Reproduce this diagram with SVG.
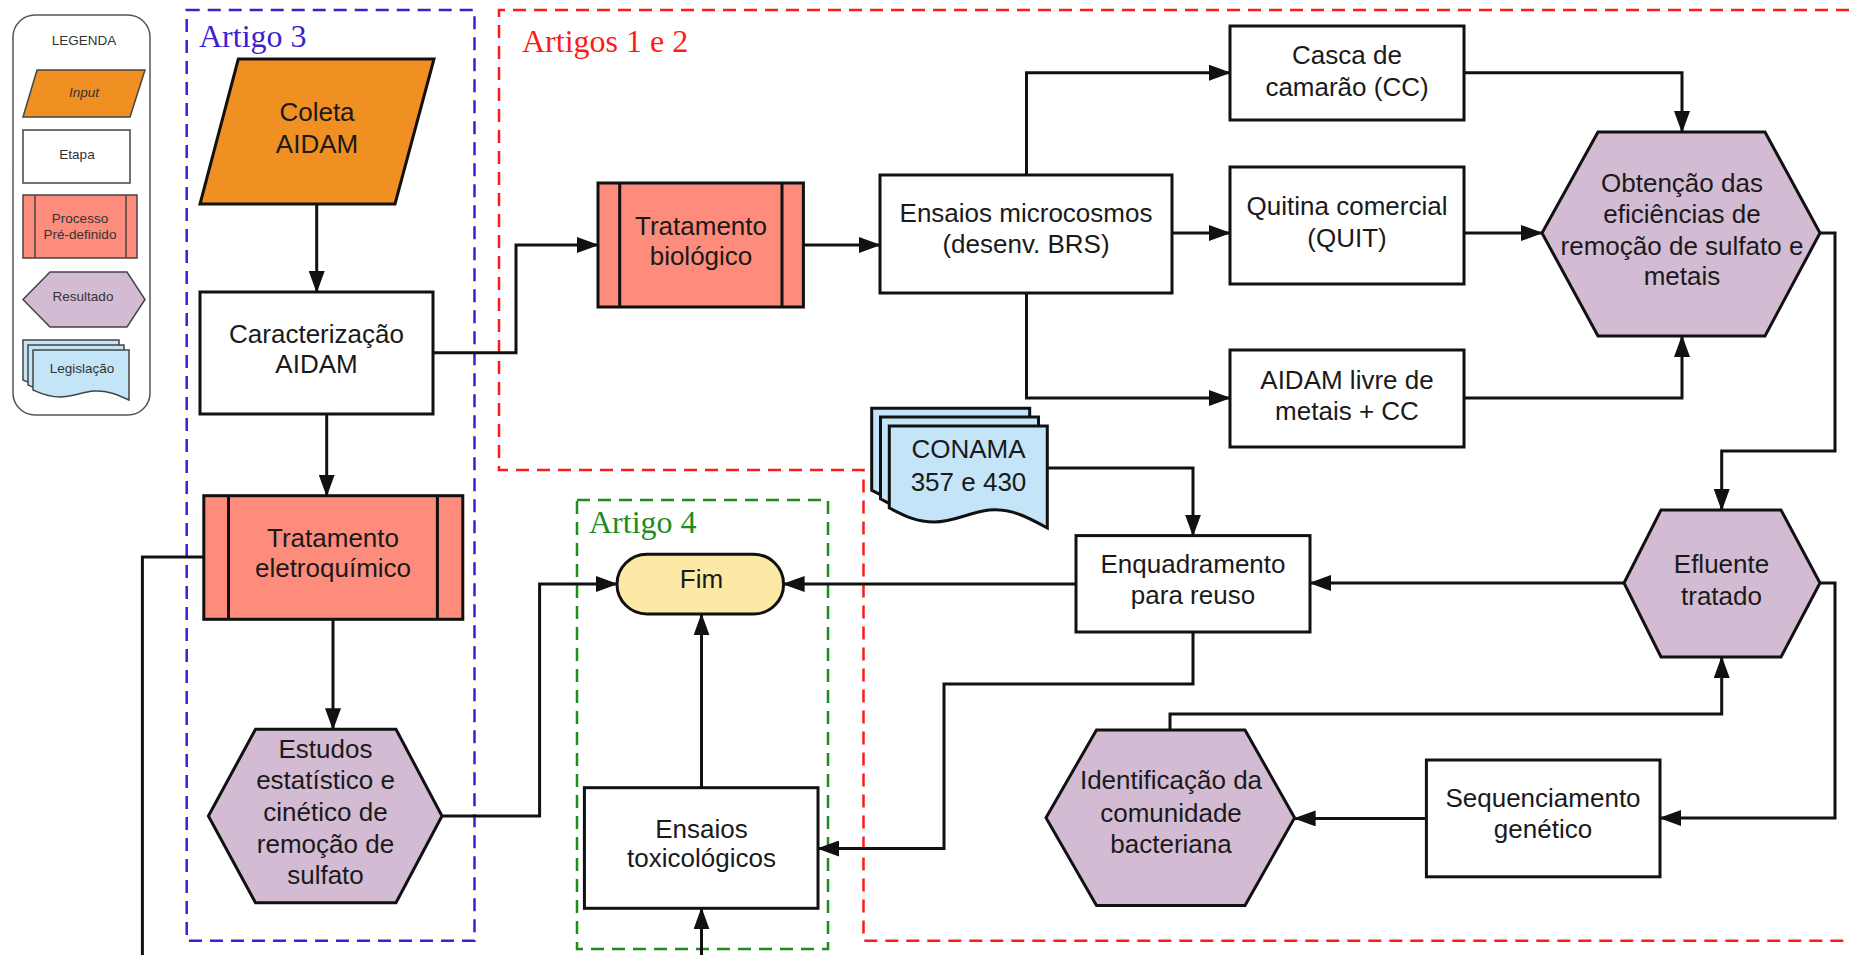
<svg xmlns="http://www.w3.org/2000/svg" xmlns:xlink="http://www.w3.org/1999/xlink" width="1849" height="955" viewBox="0 0 1849 955">
<style>
  .t { font-family: "Liberation Sans", Arial, sans-serif; font-size: 26px; fill: #1a1a1a; text-anchor: middle; }
  .lt { font-family: "Liberation Sans", Arial, sans-serif; font-size: 13.5px; fill: #333; text-anchor: middle; }
  .art { font-family: "Liberation Serif", "Times New Roman", serif; font-size: 32px; }
  .box { fill: #fff; stroke: #111; stroke-width: 3; }
  .inp { fill: #f08f22; stroke: #111; stroke-width: 3; }
  .proc { fill: #fd8c7c; stroke: #111; stroke-width: 3; }
  .res { fill: #d3bbd3; stroke: #111; stroke-width: 3; }
  .doc { fill: #c4e4f7; stroke: #111; stroke-width: 3; }
  .term { fill: #fde9a6; stroke: #111; stroke-width: 3; }
  .lbox { fill: #fff; stroke: #444; stroke-width: 1.5; }
  .linp { fill: #f08f22; stroke: #444; stroke-width: 1.5; }
  .lproc { fill: #fd8c7c; stroke: #444; stroke-width: 1.5; }
  .lres { fill: #d3bbd3; stroke: #444; stroke-width: 1.5; }
  .ldoc { fill: #c4e4f7; stroke: #444; stroke-width: 1.5; }
  .conn path { fill: none; stroke: #111; stroke-width: 3; }
  .arr { marker-end: url(#ah); }
  .dash { fill: none; stroke-width: 2.5; stroke-dasharray: 13 8; }
</style>
<defs>
  <marker id="ah" markerUnits="userSpaceOnUse" markerWidth="22" markerHeight="16" refX="21" refY="8" orient="auto">
    <path d="M0,0 L22,8 L0,16 Z" fill="#111"/>
  </marker>
  <path id="doc" d="M0,0 H158 V102 C140,92 122,82 100,84 C80,86 65,96 45,96 C25,96 12,88 0,82 Z"/>
  <path id="ldoc" d="M0,0 H96 V50 C85,45 74,40 61,41 C49,42 39,47 27,47 C15,47 7,43 0,40 Z"/>
</defs>
<rect width="1849" height="955" fill="#fff"/>

<g id="legend">
  <rect x="13" y="15" width="137" height="400" rx="22" fill="#fff" stroke="#555" stroke-width="1.5"/>
  <text class="lt" x="84" y="45">LEGENDA</text>
  <polygon class="linp" points="37,70 145,70 130,117 23,117"/>
  <text class="lt" x="84" y="97" font-style="italic">Input</text>
  <rect class="lbox" x="23" y="130" width="107" height="53"/>
  <text class="lt" x="77" y="159">Etapa</text>
  <rect class="lproc" x="23" y="195" width="114" height="63"/>
  <line x1="35" y1="195" x2="35" y2="258" stroke="#444" stroke-width="1.5"/>
  <line x1="126" y1="195" x2="126" y2="258" stroke="#444" stroke-width="1.5"/>
  <text class="lt" x="80" y="223">Processo</text>
  <text class="lt" x="80" y="239">Pré-definido</text>
  <polygon class="lres" points="50,272 127,272 145,299.5 127,327 50,327 23,299.5"/>
  <text class="lt" x="83" y="301">Resultado</text>
  <use xlink:href="#ldoc" class="ldoc" x="23" y="340"/>
  <use xlink:href="#ldoc" class="ldoc" x="28" y="345"/>
  <use xlink:href="#ldoc" class="ldoc" x="33" y="350"/>
  <text class="lt" x="82" y="373">Legislação</text>
</g>

<g id="containers">
  <g id="artigo3">
    <rect class="dash" x="186.7" y="10" width="287.8" height="930.7" stroke="#3b1fd1"/>
    <text class="art" x="199" y="47" fill="#3b1fd1">Artigo 3</text>
  </g>
  <g id="artigos12">
    <path class="dash" d="M1870,10 H499 V470 H863.5 V940.7 H1870" stroke="#ff1a1a"/>
    <text class="art" x="522" y="52" fill="#ff1a1a" font-size="33">Artigos 1 e 2</text>
  </g>
  <g id="artigo4">
    <rect class="dash" x="577" y="500" width="251" height="449" stroke="#1e8c1e"/>
    <text class="art" x="589" y="533" fill="#1e8c1e">Artigo 4</text>
  </g>
</g>

<g id="connectors" class="conn">
  <path class="arr" d="M316.7,204 V292"/>
  <path class="arr" d="M433,352.7 H516 V245 H598"/>
  <path class="arr" d="M326.7,414 V495.7"/>
  <path class="arr" d="M333,619.3 V729.3"/>
  <path d="M203.8,557 H142.4 V960"/>
  <path class="arr" d="M442,816 H539.6 V584 H617"/>
  <path class="arr" d="M803.4,245 H880"/>
  <path class="arr" d="M1026.5,175 V72.7 H1230"/>
  <path class="arr" d="M1172,233 H1230"/>
  <path class="arr" d="M1026.5,293 V398 H1230"/>
  <path class="arr" d="M1464,72.7 H1682 V132"/>
  <path class="arr" d="M1464,233 H1542"/>
  <path class="arr" d="M1464,398 H1682 V336"/>
  <path class="arr" d="M1820,233 H1835 V451 H1721.7 V510"/>
  <path class="arr" d="M1624,583 H1310"/>
  <path class="arr" d="M1076,584 H783.6"/>
  <path class="arr" d="M1047.3,468 H1193 V535.6"/>
  <path class="arr" d="M1193,632 V684 H944 V848.5 H818"/>
  <path class="arr" d="M701.5,787.7 V614.3"/>
  <path class="arr" d="M701.5,960 V908.3"/>
  <path class="arr" d="M1820,583 H1835 V818 H1660"/>
  <path class="arr" d="M1426.4,818.4 H1294.6"/>
  <path class="arr" d="M1170,730 V714 H1721.7 V657"/>
</g>

<g id="coleta">
  <polygon class="inp" points="238.3,59 434,59 395,204 200,204"/>
  <text class="t" x="317" y="121">Coleta</text>
  <text class="t" x="317" y="153">AIDAM</text>
</g>
<g id="caracterizacao">
  <rect class="box" x="200" y="292" width="233" height="122"/>
  <text class="t" x="316.5" y="343">Caracterização</text>
  <text class="t" x="316.5" y="373">AIDAM</text>
</g>
<g id="trat-eletro">
  <rect class="proc" x="203.8" y="495.7" width="259" height="123.6"/>
  <line x1="228.5" y1="495.7" x2="228.5" y2="619.3" stroke="#111" stroke-width="3"/>
  <line x1="437.4" y1="495.7" x2="437.4" y2="619.3" stroke="#111" stroke-width="3"/>
  <text class="t" x="333" y="547">Tratamento</text>
  <text class="t" x="333" y="577">eletroquímico</text>
</g>
<g id="estudos">
  <polygon class="res" points="255.5,729.3 396,729.3 442,816 396,902.7 255.5,902.7 208.4,816"/>
  <text class="t" x="325.5" y="758">Estudos</text>
  <text class="t" x="325.5" y="789">estatístico e</text>
  <text class="t" x="325.5" y="821">cinético de</text>
  <text class="t" x="325.5" y="852.5">remoção de</text>
  <text class="t" x="325.5" y="884">sulfato</text>
</g>
<g id="trat-bio">
  <rect class="proc" x="598" y="183" width="205.4" height="124"/>
  <line x1="619.7" y1="183" x2="619.7" y2="307" stroke="#111" stroke-width="3"/>
  <line x1="782" y1="183" x2="782" y2="307" stroke="#111" stroke-width="3"/>
  <text class="t" x="701" y="235">Tratamento</text>
  <text class="t" x="701" y="265">biológico</text>
</g>
<g id="ensaios-micro">
  <rect class="box" x="880" y="175" width="292" height="118"/>
  <text class="t" x="1026" y="222">Ensaios microcosmos</text>
  <text class="t" x="1026" y="253">(desenv. BRS)</text>
</g>
<g id="casca">
  <rect class="box" x="1230" y="26" width="234" height="94"/>
  <text class="t" x="1347" y="63.5">Casca de</text>
  <text class="t" x="1347" y="95.5">camarão (CC)</text>
</g>
<g id="quitina">
  <rect class="box" x="1230" y="167" width="234" height="117"/>
  <text class="t" x="1347" y="215">Quitina comercial</text>
  <text class="t" x="1347" y="247">(QUIT)</text>
</g>
<g id="aidam-livre">
  <rect class="box" x="1230" y="350" width="234" height="97"/>
  <text class="t" x="1347" y="388.5">AIDAM livre de</text>
  <text class="t" x="1347" y="420">metais + CC</text>
</g>
<g id="obtencao">
  <polygon class="res" points="1598,132 1765,132 1820,233 1765,336 1598,336 1542,233"/>
  <text class="t" x="1682" y="192">Obtenção das</text>
  <text class="t" x="1682" y="223">eficiências de</text>
  <text class="t" x="1682" y="255">remoção de sulfato e</text>
  <text class="t" x="1682" y="285">metais</text>
</g>
<g id="conama">
  <use xlink:href="#doc" class="doc" x="871.7" y="408.3"/>
  <use xlink:href="#doc" class="doc" x="880.5" y="417"/>
  <use xlink:href="#doc" class="doc" x="889.3" y="426"/>
  <text class="t" x="968.5" y="458.3">CONAMA</text>
  <text class="t" x="968.5" y="490.7">357 e 430</text>
</g>
<g id="enquadramento">
  <rect class="box" x="1076" y="535.6" width="234" height="96.4"/>
  <text class="t" x="1193" y="573">Enquadramento</text>
  <text class="t" x="1193" y="603.5">para reuso</text>
</g>
<g id="efluente">
  <polygon class="res" points="1661,510 1781,510 1820,583 1781,657 1661,657 1624,583"/>
  <text class="t" x="1721.5" y="573">Efluente</text>
  <text class="t" x="1721.5" y="605">tratado</text>
</g>
<g id="fim">
  <rect class="term" x="617" y="554.3" width="166.6" height="59.7" rx="30"/>
  <text class="t" x="701.5" y="588">Fim</text>
</g>
<g id="ensaios-tox">
  <rect class="box" x="584.4" y="787.7" width="233.6" height="120.6"/>
  <text class="t" x="701.5" y="838">Ensaios</text>
  <text class="t" x="701.5" y="867">toxicológicos</text>
</g>
<g id="identificacao">
  <polygon class="res" points="1096.5,730 1245,730 1294.6,817.7 1245,905.5 1096.5,905.5 1046,817.7"/>
  <text class="t" x="1171" y="789">Identificação da</text>
  <text class="t" x="1171" y="822">comunidade</text>
  <text class="t" x="1171" y="853">bacteriana</text>
</g>
<g id="sequenciamento">
  <rect class="box" x="1426.4" y="760" width="233.6" height="116.8"/>
  <text class="t" x="1543" y="807">Sequenciamento</text>
  <text class="t" x="1543" y="838">genético</text>
</g>
</svg>
